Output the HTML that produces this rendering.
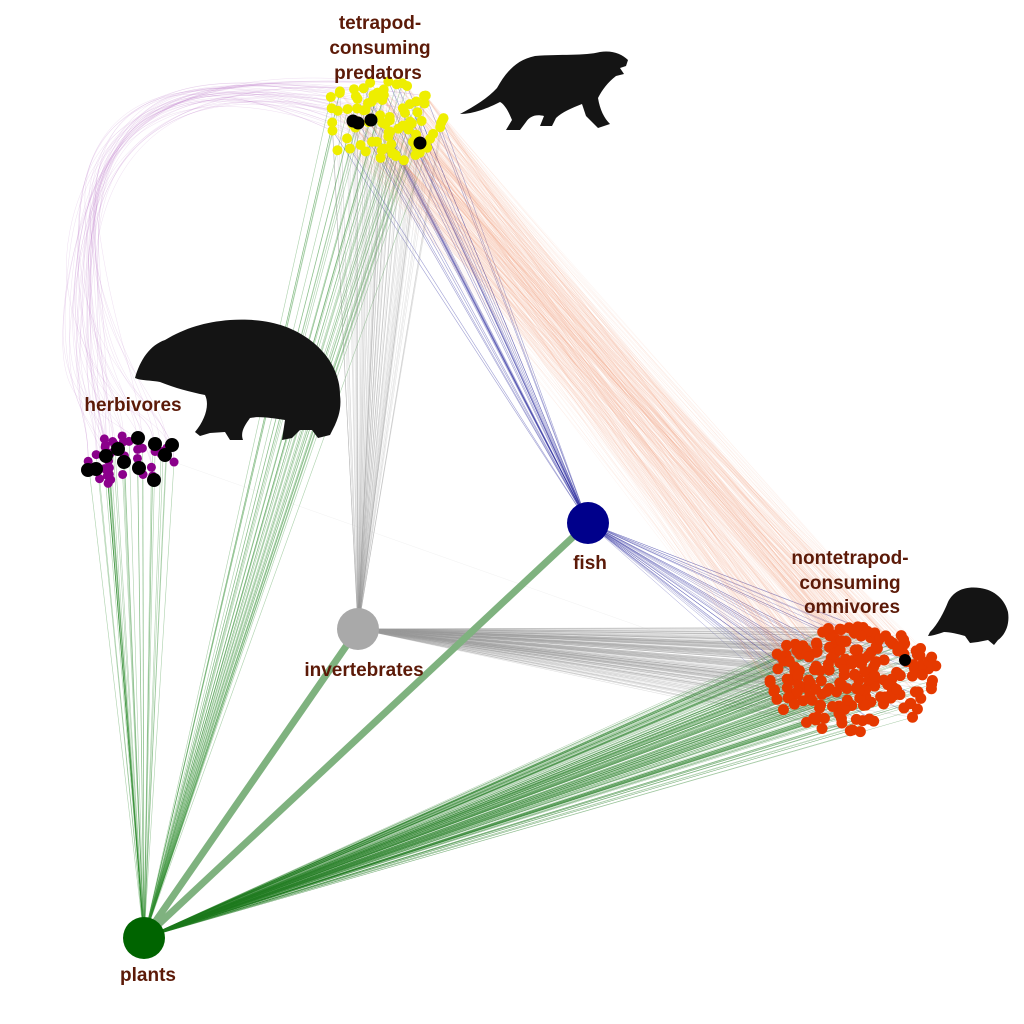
<!DOCTYPE html>
<html><head><meta charset="utf-8">
<style>
html,body{margin:0;padding:0;background:#fff;}
svg{display:block;}
text{font-family:"Liberation Sans",sans-serif;font-weight:bold;font-size:19px;fill:#5c1a08;text-anchor:middle;}
</style></head>
<body>
<svg id="s" width="1024" height="1024" viewBox="0 0 1024 1024" xmlns="http://www.w3.org/2000/svg">
<g id="lines"></g>
<g fill="#141414">
<path d="M135,378 C140,360 150,345 165,340 C185,328 205,322 230,320 C265,318 290,325 310,340 C330,355 340,375 340,395 C342,410 337,420 335,425 L330,435 L318,438 L312,430 L300,430 L292,438 L282,440 L285,420 C270,418 260,416 250,418 C245,425 240,432 243,440 L230,440 L225,432 L210,433 L200,436 L195,432 C205,420 210,405 205,395 C190,392 175,388 160,382 C150,380 142,381 135,378 Z"/>
<path d="M460,114 C475,106 488,98 497,88 C505,74 515,60 535,56 C560,54 585,56 600,52 C612,50 622,54 628,60 L626,66 L620,68 L624,74 L616,76 C608,82 602,90 598,98 C600,110 604,118 610,124 L598,128 L586,116 L582,104 C572,108 562,112 556,118 L552,126 L540,126 L544,116 C536,114 530,116 526,122 L520,130 L506,130 L512,120 C508,110 504,104 500,102 C488,108 474,114 460,114 Z"/>
<path d="M930,632 C938,624 944,612 948,602 C954,590 966,586 980,588 C995,590 1005,600 1008,612 C1010,625 1005,635 998,640 L994,645 L988,640 L978,642 L970,643 L965,636 C958,634 950,632 944,632 C938,634 932,636 928,636 Z"/>
</g>
<line x1="144" y1="938" x2="358" y2="629" stroke="#7fb27f" stroke-width="7"/>
<line x1="144" y1="938" x2="588" y2="523" stroke="#7fb27f" stroke-width="7"/>
<g id="dots"></g>
<circle cx="144" cy="938" r="21" fill="#006400"/>
<circle cx="358" cy="629" r="21" fill="#a9a9a9"/>
<circle cx="588" cy="523" r="21" fill="#00008b"/>
<text x="380" y="29">tetrapod-</text>
<text x="380" y="54">consuming</text>
<text x="378" y="79">predators</text>
<text x="133" y="411">herbivores</text>
<text x="364" y="676">invertebrates</text>
<text x="590" y="569">fish</text>
<text x="850" y="564">nontetrapod-</text>
<text x="850" y="589">consuming</text>
<text x="852" y="613">omnivores</text>
<text x="148" y="981">plants</text>
</svg>
<script>
var seed=7;function r(){seed=(seed*16807)%2147483647;return (seed-1)/2147483646;}
var NS="http://www.w3.org/2000/svg";
var L=document.getElementById("lines"),D=document.getElementById("dots");
function ln(a,b,c,col,w,op){var e=document.createElementNS(NS,"line");e.setAttribute("x1",a[0]);e.setAttribute("y1",a[1]);e.setAttribute("x2",b[0]);e.setAttribute("y2",b[1]);e.setAttribute("stroke",col);e.setAttribute("stroke-width",w);e.setAttribute("stroke-opacity",op);L.appendChild(e);}
function pth(d,col,w,op){var e=document.createElementNS(NS,"path");e.setAttribute("d",d);e.setAttribute("fill","none");e.setAttribute("stroke",col);e.setAttribute("stroke-width",w);e.setAttribute("stroke-opacity",op);L.appendChild(e);}
function dot(p,rad,col){var e=document.createElementNS(NS,"circle");e.setAttribute("cx",p[0]);e.setAttribute("cy",p[1]);e.setAttribute("r",rad);e.setAttribute("fill",col);D.appendChild(e);}
function ell(cx,cy,rx,ry,n){var a=[];for(var i=0;i<n;i++){var t=r()*6.283,q=Math.sqrt(r());a.push([cx+Math.cos(t)*rx*q,cy+Math.sin(t)*ry*q]);}return a;}
var P=[144,938],I=[358,629],F=[588,523];
var herb=ell(128,462,48,28,36);
var pred=ell(380,122,64,42,85);
var omn=ell(852,680,88,54,210);
herb.forEach(function(h){ln(P,h,0,"#2e8b2e",0.6,0.4);});
pred.forEach(function(p,i){ if(i%2==0)ln(P,p,0,"#2e8b2e",0.6,0.4); ln(I,p,0,"#999",0.5,0.3); if(i%3==1)ln(F,p,0,"#2b2b9e",0.6,0.45);});
omn.forEach(function(o,i){ln(P,o,0,"#1f7a1f",0.5,0.4);ln(I,o,0,"#9a9a9a",0.5,0.35);if(i%6==0)ln(F,o,0,"#2b2b9e",0.5,0.45);});
for(var k=0;k<450;k++){var a=pred[Math.floor(r()*pred.length)],b=omn[Math.floor(r()*omn.length)];ln(a,b,0,"#f08a60",0.5,0.12);}
pred.forEach(function(p,i){if(i%2)return;var h=herb[Math.floor(r()*herb.length)];
 var c1=[80+r()*40,70+r()*25],c2=[70+r()*30,200+r()*60];
 pth("M"+p[0]+","+p[1]+" C"+(p[0]-150)+","+(60+r()*20)+" "+c1[0]+","+c1[1]+" "+c2[0]+","+c2[1]+" S"+h[0]+","+(h[1]-60)+" "+h[0]+","+h[1],"#b060c0",0.5,0.2);});
ln(herb[0],[650,630],0,"#bbb",0.5,0.2);
herb.forEach(function(h,i){dot(h,4.5,"#8b008b");});
[[138,438],[118,449],[106,456],[155,444],[172,445],[124,462],[165,455],[139,468],[88,470],[96,469],[154,480]].forEach(function(p){dot(p,7,"#000");});
pred.forEach(function(p){dot(p,5,"#eeee00");});
[[353,121],[358,123],[371,120],[420,143]].forEach(function(p){dot(p,6.5,"#000");});
omn.forEach(function(p){dot(p,5.5,"#e53900");});
dot([905,660],6,"#000");
</script>
</body></html>
